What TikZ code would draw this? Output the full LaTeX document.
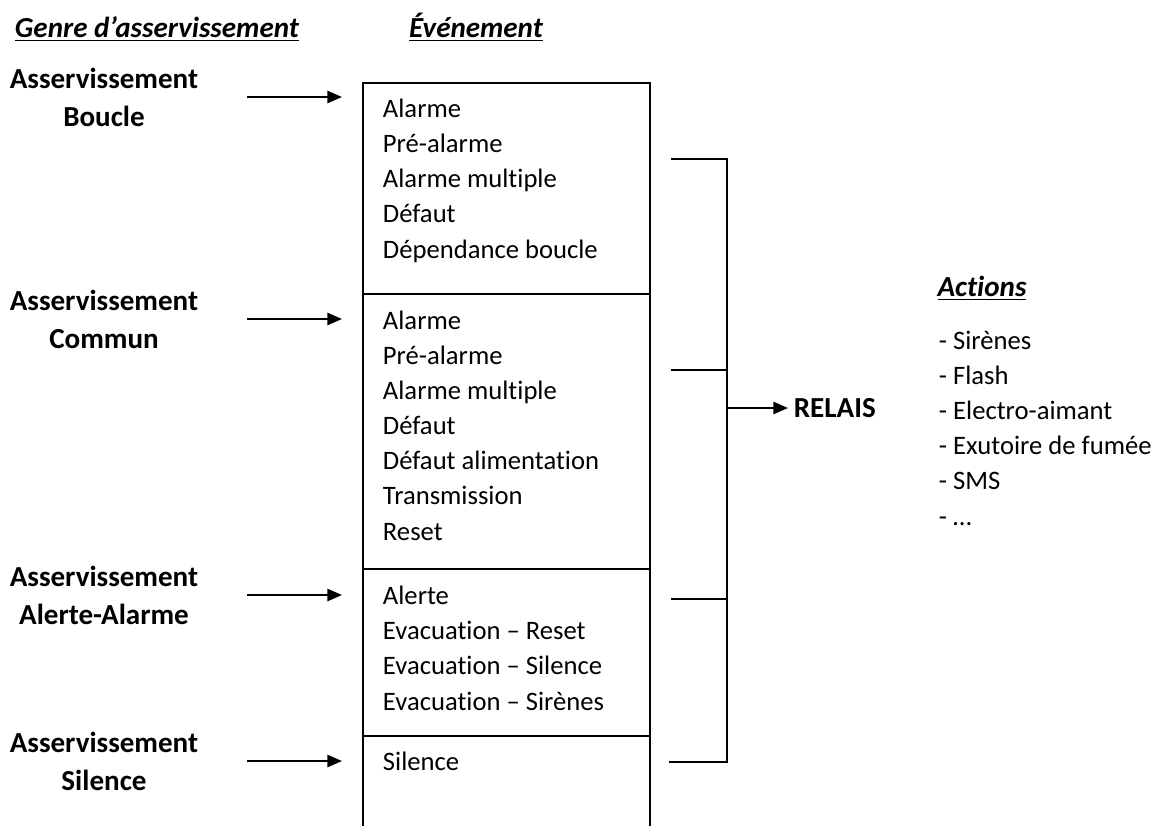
\documentclass[tikz,border=0pt]{standalone}
\usepackage{fontspec}
\setmainfont{Carlito}[Ligatures=NoCommon]
\usepackage{tikz}
\usetikzlibrary{arrows.meta}

\begin{document}
\begin{tikzpicture}[
    x=0.413pt, y=-0.413pt,
    line width=0.8pt,
    sect/.style={draw, anchor=north west, inner sep=0pt, minimum width=118.5pt},
    evt/.style={anchor=base west, inner sep=0pt, align=left, font=\fontsize{11}{14.5}\selectfont},
    genre/.style={align=center, inner sep=0pt, font=\fontsize{12}{15.7}\selectfont\bfseries},
    titre/.style={anchor=base, inner sep=0pt, font=\fontsize{12}{14.5}\selectfont\bfseries\itshape},
    fleche/.style={-{Triangle[length=6pt,width=5pt]}}
  ]
  \useasboundingbox (0,0) rectangle (1160,825);
  \clip (0,0) rectangle (1160,825);

  % titres
  \node[titre] (tgenre) at (157,37) {\underline{Genre d’asservissement}};
  \node[titre] (tevt) at (476,37) {\underline{Événement}};
  \node[titre] (tact) at (982,296) {\underline{Actions}};

  % colonne des evenements
  \node[sect, minimum height=87.2pt] (s1) at (362,82) {};
  \node[sect, minimum height=113.6pt] (s2) at (362,293) {};
  \node[sect, minimum height=69pt] (s3) at (362,568) {};
  \node[sect, minimum height=49.6pt] (s4) at (362,735) {};

  % (base = derniere ligne)
  \node[evt] (e1) at (382,258) {Alarme\\Pré-alarme\\Alarme multiple\\Défaut\\Dépendance boucle};
  \node[evt] (e2) at (382,540) {Alarme\\Pré-alarme\\Alarme multiple\\Défaut\\Défaut alimentation\\Transmission\\Reset};
  \node[evt] (e3) at (382,710) {Alerte\\Evacuation – Reset\\Evacuation – Silence\\Evacuation – Sirènes};
  \node[evt] (e4) at (382,770) {Silence};

  % genres d'asservissement
  \node[genre] (g1) at (104,97) {Asservissement\\Boucle};
  \node[genre] (g2) at (104,319) {Asservissement\\Commun};
  \node[genre] (g3) at (104,595) {Asservissement\\Alerte-Alarme};
  \node[genre] (g4) at (104,761) {Asservissement\\Silence};

  \draw[fleche] (s1.west |- g1) ++(-115,0) -- ++(95,0);
  \draw[fleche] (s2.west |- g2) ++(-115,0) -- ++(95,0);
  \draw[fleche] (s3.west |- g3) ++(-115,0) -- ++(95,0);
  \draw[fleche] (s4.west |- g4) ++(-115,0) -- ++(95,0);

  % relais
  \coordinate (j1) at (727,159);
  \coordinate (j2) at (727,370);
  \coordinate (j3) at (727,599);
  \coordinate (j4) at (727,762);
  \node[anchor=west, inner sep=2pt, font=\fontsize{12}{14.5}\selectfont\bfseries] (relais) at (788,408) {RELAIS};

  \draw (s1.east |- j1) ++(20,0) -- (j1) -- (j4) -- ++(-58,0);
  \draw (s2.east |- j2) ++(20,0) -- (j2);
  \draw (s3.east |- j3) ++(20,0) -- (j3);
  \draw[fleche] (j1 |- relais.west) -- (relais.west);

  % actions
  \node[evt] (act) at (938,525) {- Sirènes\\- Flash\\- Electro-aimant\\- Exutoire de fumée\\- SMS\\- …};
\end{tikzpicture}
\end{document}
